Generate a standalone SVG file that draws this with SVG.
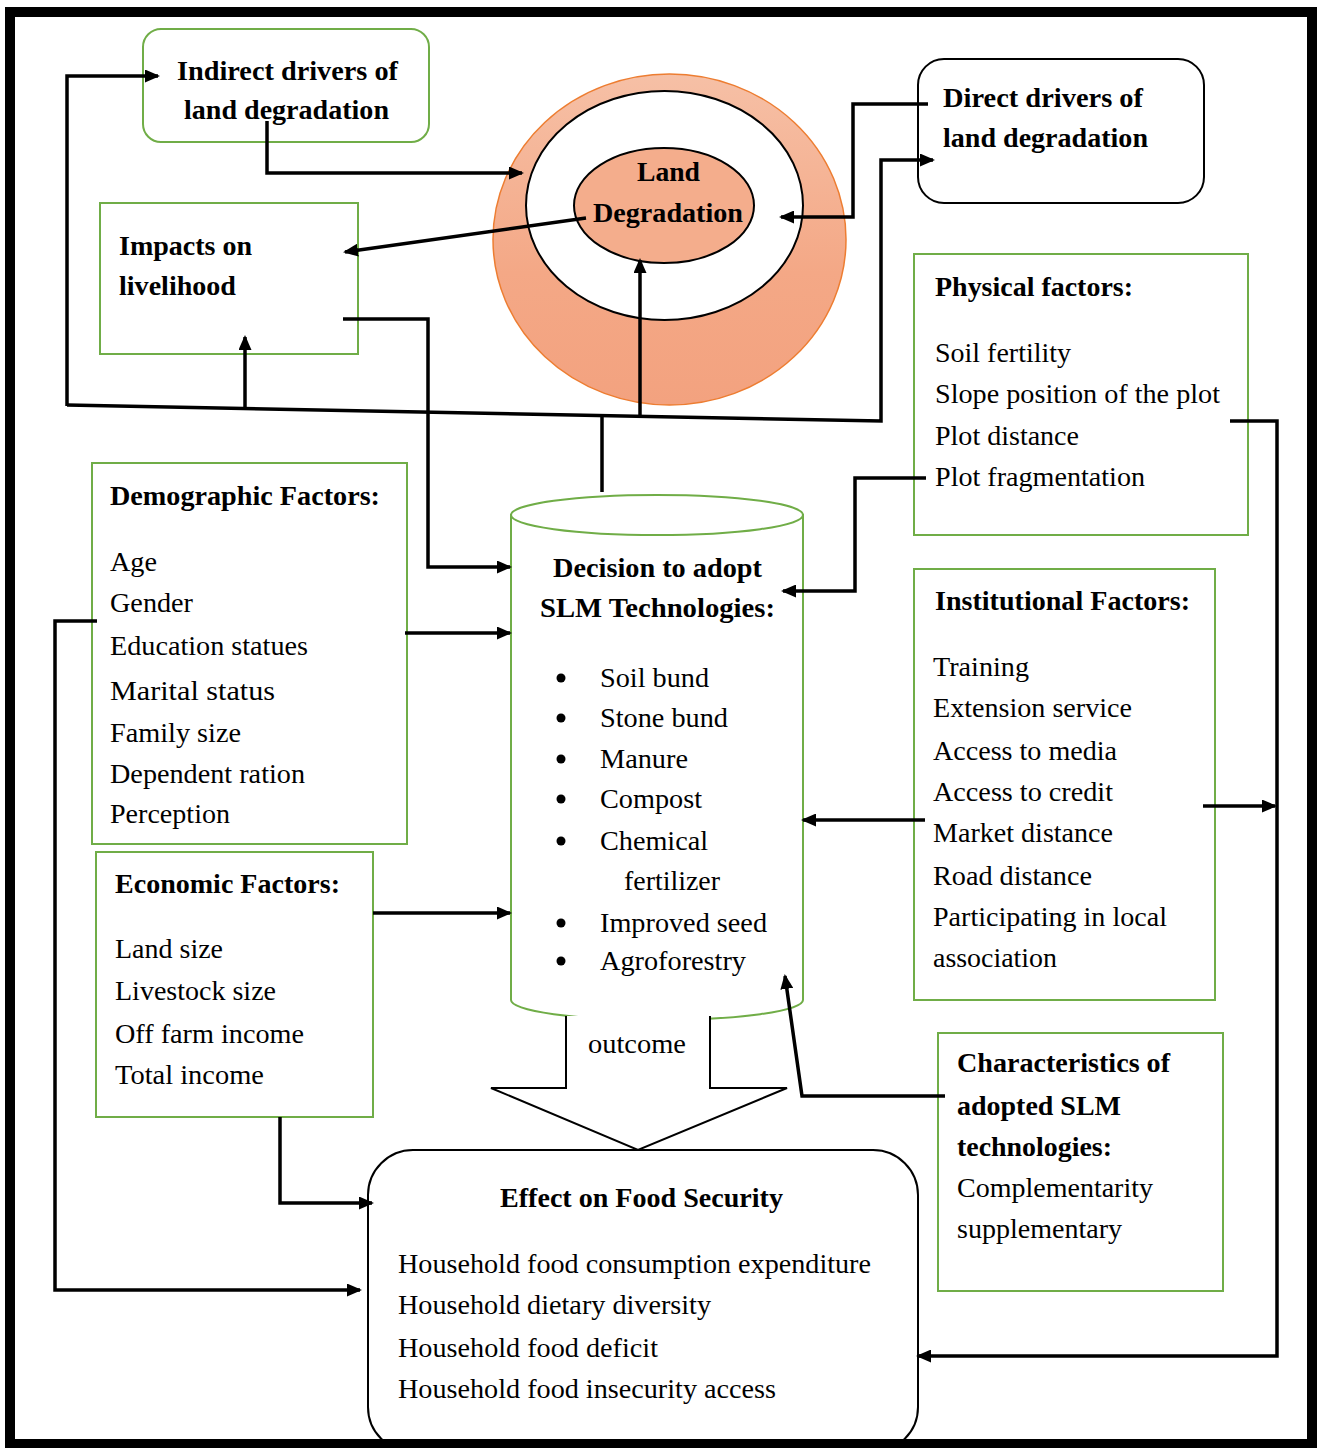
<svg xmlns="http://www.w3.org/2000/svg" width="1325" height="1448" viewBox="0 0 1325 1448">
<defs>
<style>
.t{font-family:"Liberation Serif","DejaVu Serif",serif;font-size:28px;fill:#000}
.b{font-weight:bold}
.m{text-anchor:middle}
.g{fill:#fff;stroke:#70ad47;stroke-width:2}
.k{fill:#fff;stroke:#000;stroke-width:2}
.c{fill:none;stroke:#000;stroke-width:3.5}
.dot{fill:#000}
</style>
<linearGradient id="og" x1="0" y1="0" x2="0" y2="1">
<stop offset="0" stop-color="#f6c0a6"/>
<stop offset="0.6" stop-color="#f4a886"/>
<stop offset="1" stop-color="#f3a27f"/>
</linearGradient>
<marker id="ah" markerUnits="userSpaceOnUse" markerWidth="15" markerHeight="13" refX="13" refY="6.5" orient="auto">
<path d="M0,0 L15,6.5 L0,13 z" fill="#000"/>
</marker>
</defs>
<rect x="0" y="0" width="1325" height="1448" fill="#fff"/>

<g id="land-degradation">
<ellipse cx="669.5" cy="239.5" rx="176.5" ry="165.5" fill="url(#og)" stroke="#ed7d31" stroke-width="1.5"/>
<ellipse cx="664.5" cy="205.5" rx="138.5" ry="114.5" fill="#fff" stroke="#000" stroke-width="2"/>
<ellipse cx="664" cy="205.5" rx="90" ry="57.5" fill="#f4ad8c" stroke="#000" stroke-width="2"/>
<text class="t b" x="637" y="181" textLength="63" lengthAdjust="spacingAndGlyphs">Land</text>
<text class="t b" x="593" y="222" textLength="150" lengthAdjust="spacingAndGlyphs">Degradation</text>
</g>

<g id="indirect-drivers">
<rect class="g" x="143" y="29" width="286" height="113" rx="18"/>
<text class="t b" x="177" y="80" textLength="221" lengthAdjust="spacingAndGlyphs">Indirect drivers of</text>
<text class="t b" x="184" y="119" textLength="205" lengthAdjust="spacingAndGlyphs">land degradation</text>
</g>

<g id="direct-drivers">
<rect class="k" x="918" y="59" width="286" height="144" rx="26"/>
<text class="t b" x="943" y="107" textLength="200" lengthAdjust="spacingAndGlyphs">Direct drivers of</text>
<text class="t b" x="943" y="147" textLength="205" lengthAdjust="spacingAndGlyphs">land degradation</text>
</g>

<g id="impacts">
<rect class="g" x="100" y="203" width="258" height="151"/>
<text class="t b" x="119" y="255" textLength="133" lengthAdjust="spacingAndGlyphs">Impacts on</text>
<text class="t b" x="119" y="295" textLength="117" lengthAdjust="spacingAndGlyphs">livelihood</text>
</g>

<g id="physical">
<rect class="g" x="914" y="254" width="334" height="281"/>
<text class="t b" x="935" y="296" textLength="198" lengthAdjust="spacingAndGlyphs">Physical factors:</text>
<text class="t" x="935" y="362" textLength="136" lengthAdjust="spacingAndGlyphs">Soil fertility</text>
<text class="t" x="935" y="403" textLength="285" lengthAdjust="spacingAndGlyphs">Slope position of the plot</text>
<text class="t" x="935" y="445" textLength="144" lengthAdjust="spacingAndGlyphs">Plot distance</text>
<text class="t" x="935" y="486" textLength="210" lengthAdjust="spacingAndGlyphs">Plot fragmentation</text>
</g>

<g id="demographic">
<rect class="g" x="92" y="463" width="315" height="381"/>
<text class="t b" x="110" y="505" textLength="270" lengthAdjust="spacingAndGlyphs">Demographic Factors:</text>
<text class="t" x="110" y="571" textLength="47" lengthAdjust="spacingAndGlyphs">Age</text>
<text class="t" x="110" y="612" textLength="83" lengthAdjust="spacingAndGlyphs">Gender</text>
<text class="t" x="110" y="655" textLength="198" lengthAdjust="spacingAndGlyphs">Education statues</text>
<text class="t" x="110" y="700" textLength="165" lengthAdjust="spacingAndGlyphs">Marital status</text>
<text class="t" x="110" y="742" textLength="131" lengthAdjust="spacingAndGlyphs">Family size</text>
<text class="t" x="110" y="783" textLength="195" lengthAdjust="spacingAndGlyphs">Dependent ration</text>
<text class="t" x="110" y="823" textLength="120" lengthAdjust="spacingAndGlyphs">Perception</text>
</g>

<g id="economic">
<rect class="g" x="96" y="852" width="277" height="265"/>
<text class="t b" x="115" y="893" textLength="225" lengthAdjust="spacingAndGlyphs">Economic Factors:</text>
<text class="t" x="115" y="958" textLength="108" lengthAdjust="spacingAndGlyphs">Land size</text>
<text class="t" x="115" y="1000" textLength="161" lengthAdjust="spacingAndGlyphs">Livestock size</text>
<text class="t" x="115" y="1043" textLength="189" lengthAdjust="spacingAndGlyphs">Off farm income</text>
<text class="t" x="115" y="1084" textLength="149" lengthAdjust="spacingAndGlyphs">Total income</text>
</g>

<g id="decision">
<path class="g" d="M511,515 V1000 A146,20 0 0 0 803,1000 V515 Z"/>
<ellipse class="g" cx="657" cy="515" rx="146" ry="20"/>
<text class="t b" x="553" y="577" textLength="209" lengthAdjust="spacingAndGlyphs">Decision to adopt</text>
<text class="t b" x="540" y="617" textLength="235" lengthAdjust="spacingAndGlyphs">SLM Technologies:</text>
<circle class="dot" cx="561" cy="678" r="4.5"/>
<circle class="dot" cx="561" cy="718" r="4.5"/>
<circle class="dot" cx="561" cy="759" r="4.5"/>
<circle class="dot" cx="561" cy="799" r="4.5"/>
<circle class="dot" cx="561" cy="841" r="4.5"/>
<circle class="dot" cx="561" cy="923" r="4.5"/>
<circle class="dot" cx="561" cy="961" r="4.5"/>
<text class="t" x="600" y="687" textLength="109" lengthAdjust="spacingAndGlyphs">Soil bund</text>
<text class="t" x="600" y="727" textLength="128" lengthAdjust="spacingAndGlyphs">Stone bund</text>
<text class="t" x="600" y="768" textLength="88" lengthAdjust="spacingAndGlyphs">Manure</text>
<text class="t" x="600" y="808" textLength="102" lengthAdjust="spacingAndGlyphs">Compost</text>
<text class="t" x="600" y="850" textLength="108" lengthAdjust="spacingAndGlyphs">Chemical</text>
<text class="t" x="624" y="890" textLength="96" lengthAdjust="spacingAndGlyphs">fertilizer</text>
<text class="t" x="600" y="932" textLength="167" lengthAdjust="spacingAndGlyphs">Improved seed</text>
<text class="t" x="600" y="970" textLength="146" lengthAdjust="spacingAndGlyphs">Agroforestry</text>
</g>

<g id="institutional">
<rect class="g" x="914" y="569" width="301" height="431"/>
<text class="t b" x="935" y="610" textLength="255" lengthAdjust="spacingAndGlyphs">Institutional Factors:</text>
<text class="t" x="933" y="676" textLength="96" lengthAdjust="spacingAndGlyphs">Training</text>
<text class="t" x="933" y="717" textLength="199" lengthAdjust="spacingAndGlyphs">Extension service</text>
<text class="t" x="933" y="760" textLength="184" lengthAdjust="spacingAndGlyphs">Access to media</text>
<text class="t" x="933" y="801" textLength="180" lengthAdjust="spacingAndGlyphs">Access to credit</text>
<text class="t" x="933" y="842" textLength="180" lengthAdjust="spacingAndGlyphs">Market distance</text>
<text class="t" x="933" y="885" textLength="159" lengthAdjust="spacingAndGlyphs">Road distance</text>
<text class="t" x="933" y="926" textLength="234" lengthAdjust="spacingAndGlyphs">Participating in local</text>
<text class="t" x="933" y="967" textLength="124" lengthAdjust="spacingAndGlyphs">association</text>
</g>

<g id="characteristics">
<rect class="g" x="938" y="1033" width="285" height="258"/>
<text class="t b" x="957" y="1072" textLength="213" lengthAdjust="spacingAndGlyphs">Characteristics of</text>
<text class="t b" x="957" y="1115" textLength="164" lengthAdjust="spacingAndGlyphs">adopted SLM</text>
<text class="t b" x="957" y="1156" textLength="155" lengthAdjust="spacingAndGlyphs">technologies:</text>
<text class="t" x="957" y="1197" textLength="196" lengthAdjust="spacingAndGlyphs">Complementarity</text>
<text class="t" x="957" y="1238" textLength="165" lengthAdjust="spacingAndGlyphs">supplementary</text>
</g>

<g id="food-security">
<rect class="k" x="368" y="1150" width="550" height="302" rx="45"/>
<text class="t b" x="500" y="1207" textLength="283" lengthAdjust="spacingAndGlyphs">Effect on Food Security</text>
<text class="t" x="398" y="1273" textLength="473" lengthAdjust="spacingAndGlyphs">Household food consumption expenditure</text>
<text class="t" x="398" y="1314" textLength="313" lengthAdjust="spacingAndGlyphs">Household dietary diversity</text>
<text class="t" x="398" y="1357" textLength="260" lengthAdjust="spacingAndGlyphs">Household food deficit</text>
<text class="t" x="398" y="1398" textLength="378" lengthAdjust="spacingAndGlyphs">Household food insecurity access</text>
</g>

<g id="outcome-arrow">
<path d="M566,1016 V1088 H491 L638,1150 L787,1088 H710 V1016" fill="#fff" stroke="#000" stroke-width="2"/>
<text class="t" x="588" y="1053" textLength="98" lengthAdjust="spacingAndGlyphs">outcome</text>
</g>

<g id="connectors">
<path class="c" d="M267,121 V173 H522" marker-end="url(#ah)"/>
<path class="c" d="M67,406 V76 H158" marker-end="url(#ah)"/>
<path class="c" d="M67,405 L881,421 V160 H933" marker-end="url(#ah)"/>
<path class="c" d="M245,409 V337" marker-end="url(#ah)"/>
<path class="c" d="M640,416 V260" marker-end="url(#ah)"/>
<path class="c" d="M602,492 V415"/>
<path class="c" d="M586,218 L345,252" marker-end="url(#ah)"/>
<path class="c" d="M343,319 H428 V567 H510" marker-end="url(#ah)"/>
<path class="c" d="M928,104 H853 V217 H781" marker-end="url(#ah)"/>
<path class="c" d="M926,478 H855 V591 H783" marker-end="url(#ah)"/>
<path class="c" d="M1230,421 H1277 V1356 H918" marker-end="url(#ah)"/>
<path class="c" d="M1203,806 H1275" marker-end="url(#ah)"/>
<path class="c" d="M925,820 H803" marker-end="url(#ah)"/>
<path class="c" d="M405,633 H510" marker-end="url(#ah)"/>
<path class="c" d="M97,621 H55 V1290 H360" marker-end="url(#ah)"/>
<path class="c" d="M373,913 H510" marker-end="url(#ah)"/>
<path class="c" d="M280,1117 V1203 H372" marker-end="url(#ah)"/>
<path class="c" d="M945,1096 H802 L785,976" marker-end="url(#ah)"/>
</g>

<rect x="10" y="12" width="1302" height="1432" fill="none" stroke="#000" stroke-width="10"/>
</svg>
